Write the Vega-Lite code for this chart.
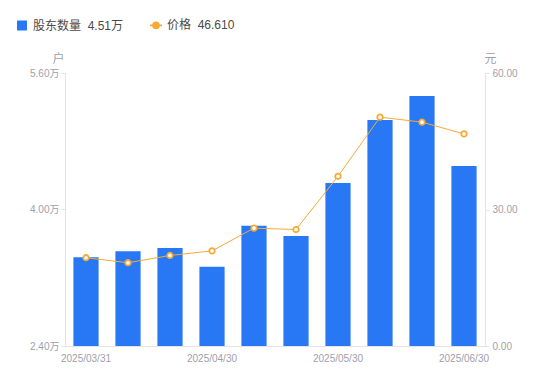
{
  "$schema": "https://vega.github.io/schema/vega-lite/v6.json",
  "autosize": "none",
  "width": 420,
  "height": 273,
  "padding": {"left": 65, "top": 73, "right": 65, "bottom": 35},
  "config": {
    "view": {"stroke": null},
    "font": "Liberation Sans, Noto Sans CJK SC, sans-serif",
    "axis": {"grid": false, "domainColor": "#e3e3e8", "tickColor": "#e3e3e8", "labelColor": "#a0a0ad", "labelFontSize": 10, "titleColor": "#a0a0ad", "titleFontSize": 12, "titleFontWeight": "normal"}
  },
  "data": {
    "values": [
      {"date": "2025/03/31", "holders": 3.44, "price": 19.4},
      {"date": "2025/04/10", "holders": 3.51, "price": 18.3},
      {"date": "2025/04/20", "holders": 3.55, "price": 19.9},
      {"date": "2025/04/30", "holders": 3.33, "price": 20.9},
      {"date": "2025/05/10", "holders": 3.81, "price": 25.9},
      {"date": "2025/05/20", "holders": 3.69, "price": 25.6},
      {"date": "2025/05/30", "holders": 4.31, "price": 37.3},
      {"date": "2025/06/10", "holders": 5.05, "price": 50.3},
      {"date": "2025/06/20", "holders": 5.33, "price": 49.2},
      {"date": "2025/06/30", "holders": 4.51, "price": 46.61}
    ]
  },
  "encoding": {
    "x": {
      "field": "date", "type": "ordinal", "sort": null,
      "scale": {"paddingInner": 0.4, "paddingOuter": 0.2},
      "axis": {
        "title": null, "labelAngle": 0, "ticks": false, "labelPadding": 7,
        "labelExpr": "indexof(['2025/03/31','2025/04/30','2025/05/30','2025/06/30'], datum.value) >= 0 ? datum.value : ''",
        "encode": {"labels": {"update": {"dx": {"signal": "-4 - datum.index * 19"}}}}
      }
    }
  },
  "layer": [
    {
      "mark": {"type": "bar", "color": "#2878f5"},
      "encoding": {
        "y": {
          "field": "holders", "type": "quantitative",
          "scale": {"domain": [2.4, 5.6], "nice": false, "zero": false},
          "axis": {
            "title": "户", "titleAngle": 0, "titleX": -7, "titleY": -15, "titleAlign": "center", "titleBaseline": "middle",
            "values": [2.4, 4.0, 5.6], "tickSize": 4, "labelPadding": 2,
            "labelExpr": "format(datum.value, '.2f') + '万'"
          }
        },
        "y2": {"datum": 2.4},
        "color": {
          "datum": "股东数量", "type": "nominal",
          "scale": {"domain": ["股东数量", "价格"], "range": ["#2878f5", "#f7a935"]},
          "legend": {
            "title": null, "orient": "none", "legendX": -49, "legendY": -54, "direction": "horizontal",
            "labelFontSize": 12, "labelColor": "#4a4a4a", "labelOffset": 5, "columnPadding": 22,
            "symbolSize": 110,
            "labelExpr": "datum.label === '股东数量' ? '股东数量\u00a0\u00a04.51万' : '价格\u00a0\u00a046.610'",
            "encode": {
              "symbols": {
                "update": {
                  "shape": {"signal": "datum.value === '价格' ? 'M-1,0H-0.5M0.5,0H1M0.5,0A0.5,0.5,0,1,1,-0.5,0A0.5,0.5,0,1,1,0.5,0Z' : 'square'"},
                  "size": {"signal": "datum.value === '价格' ? 144 : 100"},
                  "fill": {"signal": "datum.value === '价格' ? '#ffffff' : '#2878f5'"},
                  "stroke": {"signal": "datum.value === '价格' ? '#f7a935' : '#2878f5'"},
                  "strokeWidth": {"signal": "datum.value === '价格' ? 1.6 : 0"},
                  "opacity": {"value": 1},
                  "fillOpacity": {"value": 1}
                }
              }
            }
          }
        }
      }
    },
    {
      "layer": [
        {"mark": {"type": "line", "color": "#f7b545", "strokeWidth": 1}},
        {"mark": {"type": "point", "filled": true, "fill": "#ffffff", "stroke": "#f7a935", "strokeWidth": 1.8, "size": 30, "opacity": 1}}
      ],
      "encoding": {
        "y": {
          "field": "price", "type": "quantitative",
          "scale": {"domain": [0, 60], "nice": false},
          "axis": {
            "orient": "right", "title": "元", "titleAngle": 0, "titleX": 5, "titleY": -15, "titleAlign": "center", "titleBaseline": "middle",
            "values": [0, 30, 60], "tickSize": 4, "labelPadding": 3,
            "labelExpr": "format(datum.value, '.2f')"
          }
        },
        "color": {"datum": "价格", "type": "nominal"}
      }
    }
  ],
  "resolve": {"scale": {"y": "independent"}}
}
